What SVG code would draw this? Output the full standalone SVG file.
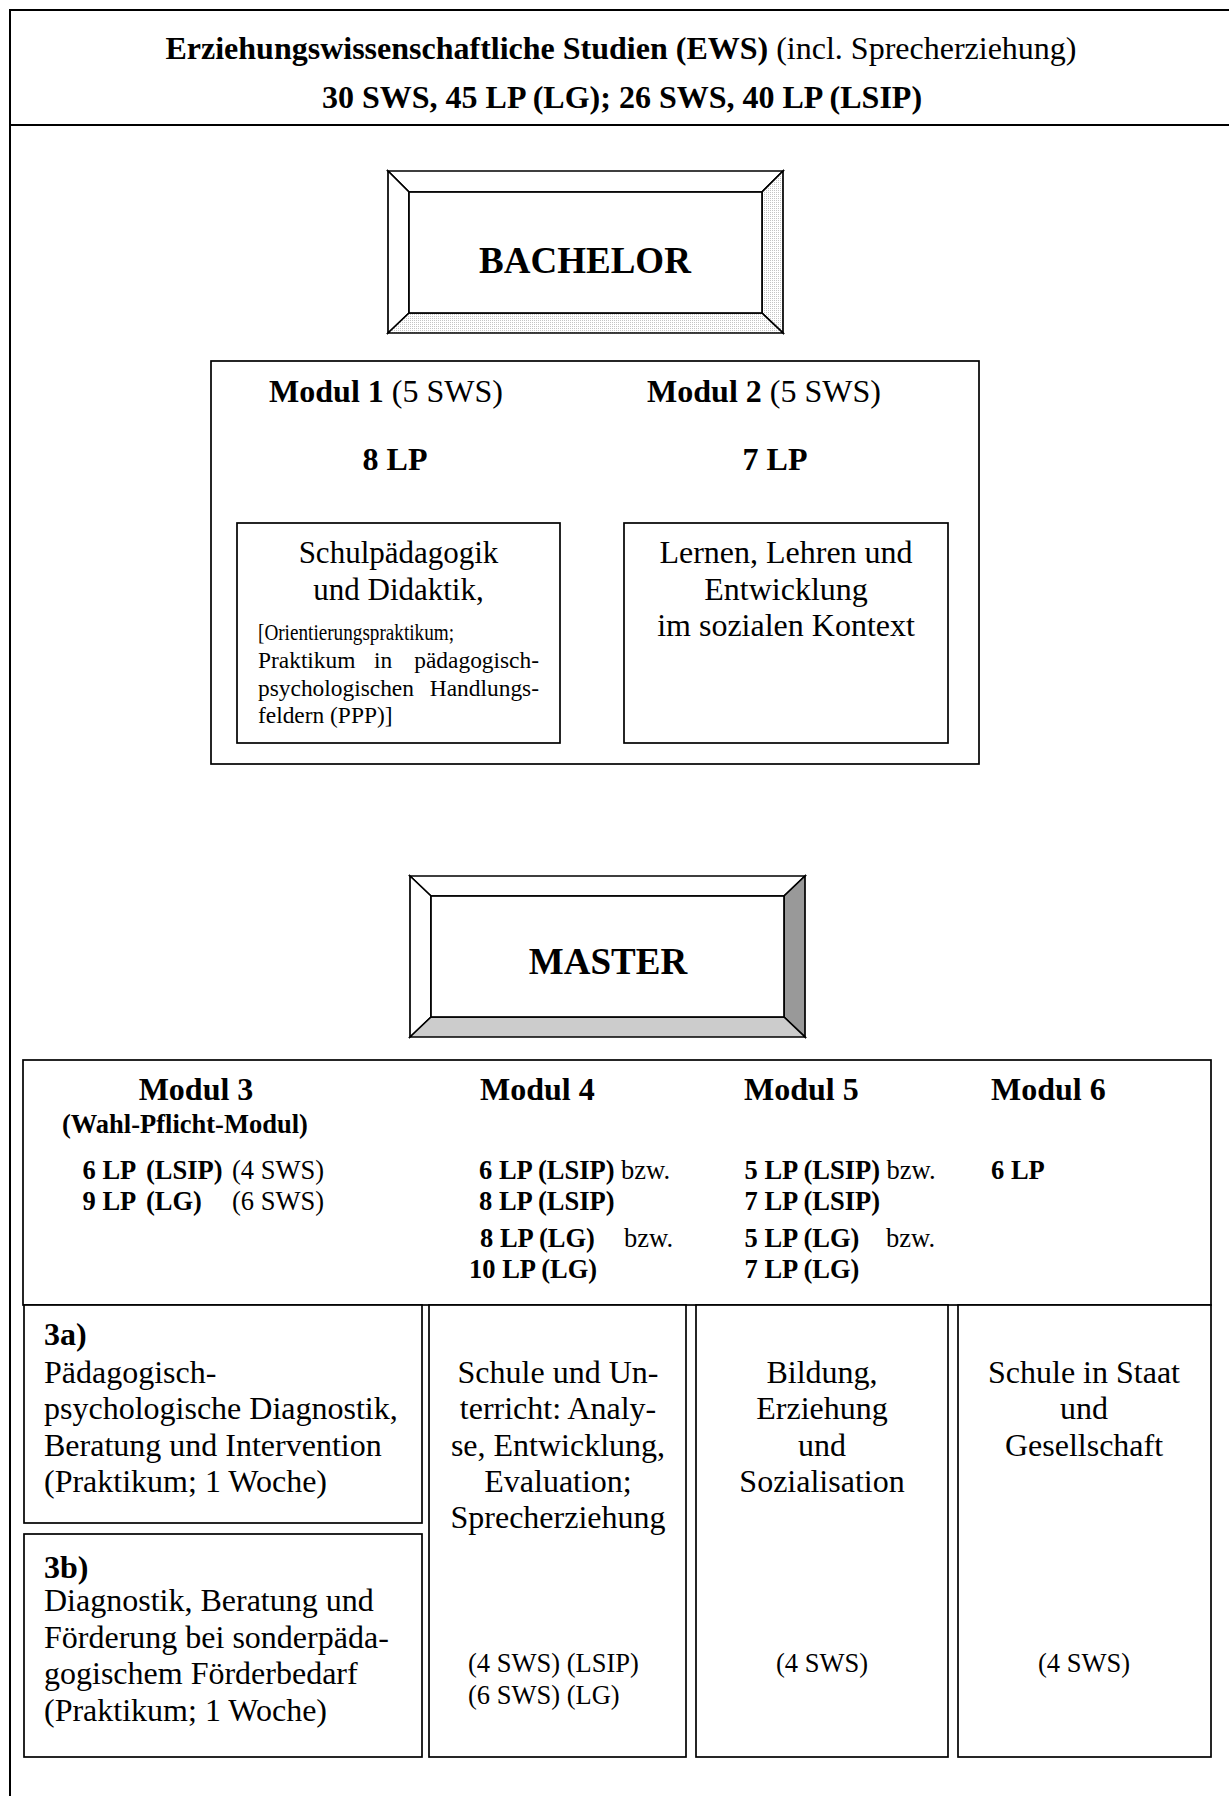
<svg xmlns="http://www.w3.org/2000/svg" width="1229" height="1796" viewBox="0 0 1229 1796">
<style>
text { font-family: 'Liberation Serif', 'Times New Roman', serif; fill: #000; }
.b { font-weight: bold; }
.c { text-anchor: middle; }
.e { text-anchor: end; }
.f32 { font-size: 32px; }
.f31 { font-size: 31px; }
.f26 { font-size: 26.5px; }
.f23 { font-size: 23.4px; }
.f37 { font-size: 37px; font-weight: bold; }
.frame { fill: none; stroke: #000; stroke-width: 2; }
.box { fill: #fff; stroke: #000; stroke-width: 1.7; }
.bev { stroke: #000; stroke-width: 1.7; stroke-linejoin: miter; }
</style>
<defs>
<pattern id="dots" width="2" height="2" patternUnits="userSpaceOnUse">
<rect width="2" height="2" fill="#ffffff"/>
<rect width="1" height="1" fill="#c4c4c4"/>
</pattern>
</defs>
<rect width="1229" height="1796" fill="#fff"/>

<g id="frame">
<rect class="frame" x="10" y="10" width="1240" height="1800"/>
<line class="frame" x1="10" y1="125" x2="1229" y2="125"/>
</g>

<g id="title">
<text class="c f32" x="621" y="59"><tspan class="b">Erziehungswissenschaftliche Studien (EWS)</tspan> (incl. Sprecherziehung)</text>
<text class="c f32 b" x="622" y="108">30 SWS, 45 LP (LG); 26 SWS, 40 LP (LSIP)</text>
</g>

<g id="bachelor">
<polygon class="bev" fill="#fff" points="388,171 783,171 762,192 409,192"/>
<polygon class="bev" fill="#fff" points="388,171 409,192 409,313 388,333"/>
<polygon class="bev" fill="url(#dots)" points="783,171 783,333 762,313 762,192"/>
<polygon class="bev" fill="url(#dots)" points="388,333 409,313 762,313 783,333"/>
<rect class="box" x="409" y="192" width="353" height="121"/>
<text class="c f37" x="585" y="273">BACHELOR</text>
</g>

<g id="bachelor-modules">
<rect class="box" x="211" y="361" width="768" height="403"/>
<text class="c f32" x="386" y="402"><tspan class="b">Modul 1</tspan> (5 SWS)</text>
<text class="c f32" x="764" y="402"><tspan class="b">Modul 2</tspan> (5 SWS)</text>
<text class="c f32 b" x="395" y="470">8 LP</text>
<text class="c f32 b" x="775" y="470">7 LP</text>
</g>

<g id="modul1">
<rect class="box" x="237" y="523" width="323" height="220"/>
<text class="c f31" x="398.5" y="563">Schulpädagogik</text>
<text class="c f31" x="398.5" y="600">und Didaktik,</text>
<text class="f23" x="258" y="640" textLength="196" lengthAdjust="spacingAndGlyphs">[Orientierungspraktikum;</text>
<text class="f23" x="258" y="668">Praktikum</text>
<text class="f23 c" x="383" y="668">in</text>
<text class="f23 e" x="539" y="668">pädagogisch-</text>
<text class="f23" x="258" y="696">psychologischen</text>
<text class="f23 e" x="539" y="696">Handlungs-</text>
<text class="f23" x="258" y="723">feldern (PPP)]</text>
</g>

<g id="modul2">
<rect class="box" x="624" y="523" width="324" height="220"/>
<text class="c f32" x="786" y="563">Lernen, Lehren und</text>
<text class="c f32" x="786" y="600">Entwicklung</text>
<text class="c f32" x="786" y="636">im sozialen Kontext</text>
</g>

<g id="master">
<polygon class="bev" fill="#fff" points="410,876 805,876 784,896 431,896"/>
<polygon class="bev" fill="#fff" points="410,876 431,896 431,1017 410,1037"/>
<polygon class="bev" fill="#999" points="805,876 805,1037 784,1017 784,896"/>
<polygon class="bev" fill="#ccc" points="410,1037 431,1017 784,1017 805,1037"/>
<rect class="box" x="431" y="896" width="353" height="121"/>
<text class="c f37" x="608" y="974">MASTER</text>
</g>

<g id="master-header">
<rect class="box" x="23" y="1060" width="1188" height="245"/>
<text class="c f32 b" x="196" y="1100">Modul 3</text>
<text class="f26 b" x="62" y="1133">(Wahl-Pflicht-Modul)</text>
<text class="f26 b" x="82.5" y="1179">6 LP</text>
<text class="f26 b" x="146" y="1179">(LSIP)</text>
<text class="f26" x="232" y="1179">(4 SWS)</text>
<text class="f26 b" x="82.5" y="1210">9 LP</text>
<text class="f26 b" x="146" y="1210">(LG)</text>
<text class="f26" x="232" y="1210">(6 SWS)</text>

<text class="f32 b" x="480" y="1100">Modul 4</text>
<text class="f26" x="479" y="1179"><tspan class="b">6 LP (LSIP)</tspan> bzw.</text>
<text class="f26 b" x="479" y="1210">8 LP (LSIP)</text>
<text class="f26 b" x="480" y="1247">8 LP (LG)</text>
<text class="f26" x="624" y="1247">bzw.</text>
<text class="f26 b" x="469" y="1278">10 LP (LG)</text>

<text class="f32 b" x="744" y="1100">Modul 5</text>
<text class="f26" x="744.5" y="1179"><tspan class="b">5 LP (LSIP)</tspan> bzw.</text>
<text class="f26 b" x="744.5" y="1210">7 LP (LSIP)</text>
<text class="f26 b" x="744.5" y="1247">5 LP (LG)</text>
<text class="f26" x="886" y="1247">bzw.</text>
<text class="f26 b" x="744.5" y="1278">7 LP (LG)</text>

<text class="f32 b" x="991" y="1100">Modul 6</text>
<text class="f26 b" x="991" y="1179">6 LP</text>
</g>

<g id="modul3a">
<rect class="box" x="24" y="1305" width="398" height="218"/>
<text class="f32 b" x="44" y="1345">3a)</text>
<text class="f32" x="44" y="1383">Pädagogisch-</text>
<text class="f32" x="44" y="1419">psychologische Diagnostik,</text>
<text class="f32" x="44" y="1456">Beratung und Intervention</text>
<text class="f32" x="44" y="1492">(Praktikum; 1 Woche)</text>
</g>

<g id="modul3b">
<rect class="box" x="24" y="1534" width="398" height="223"/>
<text class="f32 b" x="44" y="1578">3b)</text>
<text class="f32" x="44" y="1611">Diagnostik, Beratung und</text>
<text class="f32" x="44" y="1648">Förderung bei sonderpäda-</text>
<text class="f32" x="44" y="1684">gogischem Förderbedarf</text>
<text class="f32" x="44" y="1721">(Praktikum; 1 Woche)</text>
</g>

<g id="modul4">
<rect class="box" x="429" y="1305" width="257" height="452"/>
<text class="c f32" x="558" y="1383">Schule und Un-</text>
<text class="c f32" x="558" y="1419">terricht: Analy-</text>
<text class="c f32" x="558" y="1456">se, Entwicklung,</text>
<text class="c f32" x="558" y="1492">Evaluation;</text>
<text class="c f32" x="558" y="1528">Sprecherziehung</text>
<text class="f26" x="468" y="1672">(4 SWS) (LSIP)</text>
<text class="f26" x="468" y="1704">(6 SWS) (LG)</text>
</g>

<g id="modul5">
<rect class="box" x="696" y="1305" width="252" height="452"/>
<text class="c f32" x="822" y="1383">Bildung,</text>
<text class="c f32" x="822" y="1419">Erziehung</text>
<text class="c f32" x="822" y="1456">und</text>
<text class="c f32" x="822" y="1492">Sozialisation</text>
<text class="c f26" x="822" y="1672">(4 SWS)</text>
</g>

<g id="modul6">
<rect class="box" x="958" y="1305" width="253" height="452"/>
<text class="c f32" x="1084" y="1383">Schule in Staat</text>
<text class="c f32" x="1084" y="1419">und</text>
<text class="c f32" x="1084" y="1456">Gesellschaft</text>
<text class="c f26" x="1084" y="1672">(4 SWS)</text>
</g>

<g id="connectors"/>
</svg>
